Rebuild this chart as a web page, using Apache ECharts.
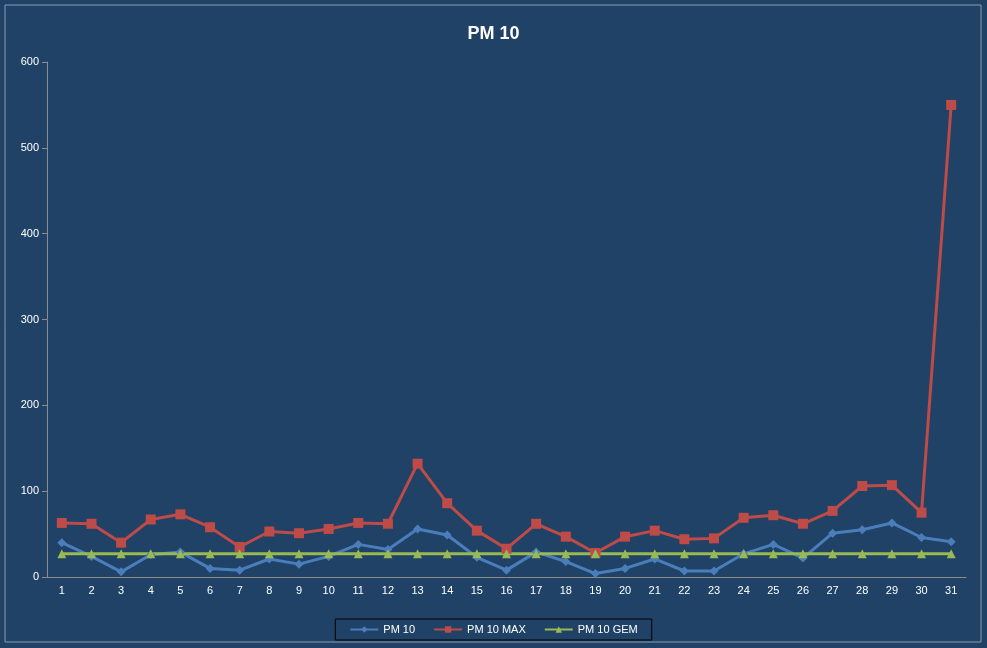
<!DOCTYPE html>
<html><head><meta charset="utf-8">
<script src="https://cdn.jsdelivr.net/npm/echarts@6/dist/echarts.min.js"></script>
<style>html,body{margin:0;padding:0;background:#fff}#c{width:987px;height:648px}</style>
</head><body><div id="c"></div>
<script>
const categories = Array.from({length:31},(_,i)=>String(i+1));
const pm10 = [40,24,6,26,29,10,8,21,15,24,38,32,56,49,23,8,29,18,4,10,21,7,7,27,38,22,51,55,63,46,41];
const pm10max = [63,62,40,67,73,58,35,53,51,56,63,62,132,86,54,33,62,47,28,47,54,44,45,69,72,62,77,106,107,75,550];
const pm10gem = Array(31).fill(27);
const chart = echarts.init(document.getElementById('c'));
const lbl = {color:'#ffffff', fontFamily:'Liberation Sans, Arial', fontSize:11};
chart.setOption({
  backgroundColor:'#1f4266',
  animation:false,
  graphic:[{type:'rect',shape:{x:5,y:5,width:976,height:637},style:{fill:'none',stroke:'#8a9cb0',lineWidth:1}}],
  title:{text:'PM 10',left:'center',top:20,textStyle:{color:'#fff',fontSize:18,fontWeight:'bold',fontFamily:'Liberation Sans, Arial'}},
  legend:{bottom:8,left:'center',itemWidth:28,itemHeight:8,itemGap:18,padding:[5,14],borderColor:'#000',borderWidth:1,
    textStyle:{color:'#fff',fontSize:11,fontFamily:'Liberation Sans, Arial'}},
  grid:{left:47,right:21,top:62,bottom:71},
  xAxis:{type:'category',data:categories,boundaryGap:true,
    axisLine:{lineStyle:{color:'#8c8c8c'}},axisTick:{length:5,lineStyle:{color:'#8c8c8c'}},axisLabel:lbl},
  yAxis:{type:'value',min:0,max:600,interval:100,splitLine:{show:false},
    axisLine:{show:true,lineStyle:{color:'#8c8c8c'}},axisTick:{show:true,length:5,lineStyle:{color:'#8c8c8c'}},axisLabel:lbl},
  series:[
    {name:'PM 10',type:'line',data:pm10,symbol:'diamond',symbolSize:9,itemStyle:{color:'#4a7ebb'},lineStyle:{width:3,color:'#4a7ebb'}},
    {name:'PM 10 MAX',type:'line',data:pm10max,symbol:'rect',symbolSize:10,itemStyle:{color:'#be4b48'},lineStyle:{width:3,color:'#be4b48'}},
    {name:'PM 10 GEM',type:'line',data:pm10gem,symbol:'triangle',symbolSize:9,itemStyle:{color:'#98b954'},lineStyle:{width:3,color:'#98b954'}}
  ]
});
</script></body></html>
